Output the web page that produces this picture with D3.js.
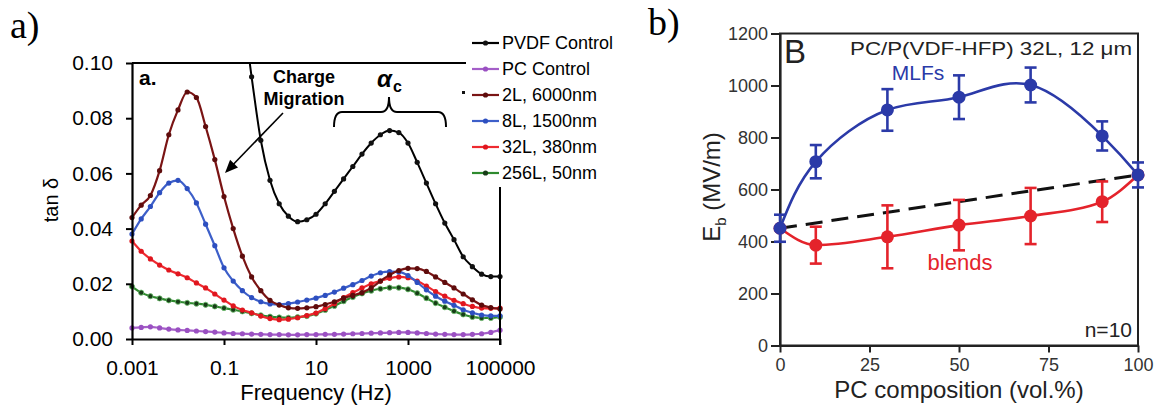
<!DOCTYPE html>
<html>
<head>
<meta charset="utf-8">
<script src="https://cdn.jsdelivr.net/npm/d3@7"></script>
<style>
  body { margin: 0; background: #fff; }
  svg { display: block; }
  text { font-family: "Liberation Sans", Arial, sans-serif; }
</style>
</head>
<body>
<svg id="chart" width="1157" height="405"></svg>
<script>
// ---- panel a: tan delta vs frequency (log10 of Hz) ----
const freqExp = [-3, -2.8, -2.6, -2.4, -2.2, -2, -1.8, -1.6, -1.4, -1.2, -1, -0.8, -0.6, -0.4, -0.2,
  0, 0.2, 0.4, 0.6, 0.8, 1, 1.2, 1.4, 1.6, 1.8, 2, 2.2, 2.4, 2.6, 2.8, 3, 3.2, 3.4, 3.6, 3.8,
  4, 4.2, 4.4, 4.6, 4.8, 5];

const pvdfControl = [null, null, null, null, null, null, null, null, null, null, null, null,
  0.120, 0.095, 0.072, 0.0575, 0.049, 0.0445, 0.0425, 0.0432, 0.0452, 0.049, 0.0535, 0.058,
  0.0625, 0.067, 0.071, 0.074, 0.0755, 0.0748, 0.071, 0.064, 0.0565, 0.049, 0.042, 0.036,
  0.0298, 0.0262, 0.0235, 0.0226, 0.0226];
const pcControl = [0.0040, 0.0042, 0.0044, 0.0040, 0.0036, 0.0033, 0.0031, 0.0029, 0.0027, 0.0025,
  0.0022, 0.0020, 0.0019, 0.0018, 0.0017, 0.0016, 0.0016, 0.0015, 0.0015, 0.0016, 0.0016, 0.0017,
  0.0017, 0.0018, 0.0019, 0.0020, 0.0021, 0.0022, 0.0023, 0.0024, 0.0024, 0.0022, 0.0020, 0.0018,
  0.0017, 0.0016, 0.0016, 0.0017, 0.0019, 0.0024, 0.0032];
const l2 = [0.044, 0.0485, 0.052, 0.061, 0.074, 0.083, 0.0895, 0.0875, 0.077, 0.065, 0.0516, 0.040,
  0.030, 0.0225, 0.0175, 0.014, 0.0123, 0.0113, 0.0111, 0.0113, 0.0117, 0.0125, 0.0135, 0.0148,
  0.0158, 0.0168, 0.0185, 0.021, 0.0232, 0.0248, 0.0256, 0.0255, 0.0245, 0.0225, 0.0205, 0.0185,
  0.0163, 0.0142, 0.0123, 0.0114, 0.0109];
const l8 = [0.038, 0.0435, 0.048, 0.053, 0.0565, 0.0575, 0.0545, 0.0493, 0.0416, 0.0338, 0.0258,
  0.0210, 0.0175, 0.0150, 0.0135, 0.0127, 0.0125, 0.0128, 0.0134, 0.0141, 0.0148, 0.0158, 0.0170,
  0.0184, 0.0197, 0.0212, 0.0228, 0.0240, 0.0244, 0.0243, 0.0230, 0.0205, 0.0178, 0.0155, 0.0137,
  0.0122, 0.0106, 0.0095, 0.0087, 0.0084, 0.0084];
const l32 = [0.0355, 0.0318, 0.0290, 0.0268, 0.0250, 0.0236, 0.0222, 0.0203, 0.0185, 0.0163,
  0.0141, 0.0120, 0.0105, 0.0095, 0.0083, 0.0074, 0.0070, 0.0072, 0.0077, 0.0085, 0.0094, 0.0110,
  0.0128, 0.0150, 0.0168, 0.0185, 0.0200, 0.0210, 0.0220, 0.0225, 0.0222, 0.0210, 0.0192, 0.0172,
  0.0155, 0.0140, 0.0128, 0.0118, 0.0112, 0.0111, 0.0112];
const l256 = [0.0190, 0.0168, 0.0155, 0.0147, 0.0140, 0.0135, 0.0131, 0.0128, 0.0124, 0.0118,
  0.0112, 0.0106, 0.0100, 0.0093, 0.0086, 0.0081, 0.0078, 0.0077, 0.0079, 0.0083, 0.0092, 0.0105,
  0.0120, 0.0137, 0.0152, 0.0165, 0.0175, 0.0182, 0.0186, 0.0186, 0.0180, 0.0166, 0.0148, 0.0130,
  0.0115, 0.0101, 0.0089, 0.0080, 0.0076, 0.0076, 0.0080];

const seriesNames = ["PVDF Control", "PC Control", "2L, 6000nm", "8L, 1500nm", "32L, 380nm", "256L, 50nm"];
const seriesValues = [pvdfControl, pcControl, l2, l8, l32, l256];
const lineColors = ["#000000", "#a45ec8", "#7a1414", "#3d5fc9", "#ee2a30", "#2e8a2e"];
const dotColors = ["#111111", "#9a50c2", "#5e0c0c", "#2d4fc0", "#e0161e", "#173d17"];

const freqTicks = [0.001, 0.1, 10, 1000, 100000];
const freqTickLabels = ["0.001", "0.1", "10", "1000", "100000"];
const tanTicks = [0, 0.02, 0.04, 0.06, 0.08, 0.10];
const tanTickLabels = ["0.00", "0.02", "0.04", "0.06", "0.08", "0.10"];

// ---- panel b: breakdown strength vs composition ----
const composition = [0, 10, 30, 50, 70, 90, 100];
const mlfEb = [451, 707, 906, 955, 1002, 806, 656];
const mlfErr = [52, 64, 80, 84, 67, 56, 48];
const blendEb = [451, 386, 418, 463, 498, 553, 656];
const blendErr = [null, 71, 121, 97, 108, 78, null];
const ruleComp = [0, 100];
const ruleEb = [451, 656];
const compTicks = [0, 25, 50, 75, 100];
const ebTicks = [0, 200, 400, 600, 800, 1000, 1200];

const svg = d3.select("#chart");

// =================== panel a ===================
const xA = d3.scaleLog().domain([1e-3, 1e5]).range([132, 500]);
const yA = d3.scaleLinear().domain([0, 0.1]).range([339, 63]);

svg.append("text").attr("x", 10).attr("y", 38)
  .style("font-family", "'Liberation Serif', serif").style("font-size", "38px").text("a)");

svg.append("defs").append("clipPath").attr("id", "clipA")
  .append("rect").attr("x", 120).attr("y", 63).attr("width", 390).attr("height", 285);

const plotA = svg.append("g").attr("clip-path", "url(#clipA)");
const lineA = d3.line()
  .defined(d => d.v != null)
  .x(d => xA(Math.pow(10, d.e)))
  .y(d => yA(d.v))
  .curve(d3.curveMonotoneX);

// draw order: purple, green, red, blue, brown, black
const order = [1, 5, 4, 3, 2, 0];
order.forEach(i => {
  const pts = freqExp.map((e, k) => ({ e: e, v: seriesValues[i][k] }));
  plotA.append("path").datum(pts)
    .attr("d", lineA).attr("fill", "none")
    .attr("stroke", lineColors[i]).attr("stroke-width", i === 0 ? 2 : 2.2);
  plotA.append("g").selectAll("circle")
    .data(pts.filter(d => d.v != null))
    .join("circle")
    .attr("cx", d => xA(Math.pow(10, d.e)))
    .attr("cy", d => yA(d.v))
    .attr("r", 2.6)
    .attr("fill", dotColors[i])
    .attr("stroke", i === 5 ? "#6fc46f" : "none")
    .attr("stroke-width", 0.8);
});

// frame top & right
svg.append("line").attr("x1", 132).attr("x2", 500).attr("y1", 63).attr("y2", 63)
  .attr("stroke", "#000").attr("stroke-width", 2);
svg.append("line").attr("x1", 500).attr("x2", 500).attr("y1", 63).attr("y2", 345)
  .attr("stroke", "#000").attr("stroke-width", 2);

const xAxisA = svg.append("g").attr("transform", "translate(0,339)")
  .call(d3.axisBottom(xA).tickValues(freqTicks).tickFormat((d, i) => freqTickLabels[i])
    .tickSizeInner(6).tickSizeOuter(0).tickPadding(15));
const yAxisA = svg.append("g").attr("transform", "translate(132,0)")
  .call(d3.axisLeft(yA).tickValues(tanTicks).tickFormat((d, i) => tanTickLabels[i])
    .tickSizeInner(6).tickSizeOuter(0).tickPadding(13));
[xAxisA, yAxisA].forEach(g => {
  g.select(".domain").attr("stroke", "#000").attr("stroke-width", 2.2);
  g.selectAll(".tick line").attr("stroke", "#000").attr("stroke-width", 2);
  g.selectAll(".tick text").style("font-size", "21px").attr("fill", "#000");
});

svg.append("text").attr("x", 316).attr("y", 400).attr("text-anchor", "middle")
  .style("font-size", "22px").text("Frequency (Hz)");
svg.append("text").attr("transform", "translate(58,200) rotate(-90)").attr("text-anchor", "middle")
  .style("font-size", "20px").text("tan δ");

svg.append("text").attr("x", 139).attr("y", 85).style("font-size", "21px")
  .style("font-weight", "bold").text("a.");
svg.append("text").attr("x", 304).attr("y", 83).attr("text-anchor", "middle")
  .style("font-size", "18px").style("font-weight", "bold").text("Charge");
svg.append("text").attr("x", 304).attr("y", 105).attr("text-anchor", "middle")
  .style("font-size", "18px").style("font-weight", "bold").text("Migration");

// arrow
const ax1 = 283, ay1 = 113, ax2 = 225, ay2 = 173;
const ang = Math.atan2(ay2 - ay1, ax2 - ax1);
svg.append("line").attr("x1", ax1).attr("y1", ay1)
  .attr("x2", ax2 - 8 * Math.cos(ang)).attr("y2", ay2 - 8 * Math.sin(ang))
  .attr("stroke", "#000").attr("stroke-width", 1.6);
const hl = 13, hw = 5.5;
const bx = ax2 - hl * Math.cos(ang), by = ay2 - hl * Math.sin(ang);
svg.append("polygon").attr("fill", "#000").attr("points", [
  [ax2, ay2],
  [bx + hw * Math.sin(ang), by - hw * Math.cos(ang)],
  [bx - hw * Math.sin(ang), by + hw * Math.cos(ang)]
].map(p => p.join(",")).join(" "));

// alpha_c with brace
svg.append("text").attr("x", 377).attr("y", 87).style("font-size", "24px")
  .style("font-weight", "bold").style("font-style", "italic").text("α");
svg.append("text").attr("x", 393).attr("y", 92).style("font-size", "16px")
  .style("font-weight", "bold").text("c");
svg.append("path")
  .attr("d", "M334,127 Q334,112 342,112 L381,112 Q389,112 389,97 Q389,112 397,112 L438,112 Q446,112 446,127")
  .attr("fill", "none").attr("stroke", "#000").attr("stroke-width", 2);

// legend
svg.append("rect").attr("x", 466).attr("y", 24).attr("width", 172).attr("height", 163).attr("fill", "#fff");
svg.append("rect").attr("x", 462).attr("y", 91).attr("width", 3).attr("height", 3).attr("fill", "#111");
seriesNames.forEach((name, i) => {
  const ly = 43 + i * 26;
  svg.append("line").attr("x1", 472).attr("x2", 499).attr("y1", ly).attr("y2", ly)
    .attr("stroke", lineColors[i]).attr("stroke-width", 2.2);
  svg.append("circle").attr("cx", 485.5).attr("cy", ly).attr("r", 2.6).attr("fill", dotColors[i]);
  svg.append("text").attr("x", 502).attr("y", ly).attr("dy", "0.36em")
    .style("font-size", "18px").attr("fill", "#000").text(name);
});

// =================== panel b ===================
const xB = d3.scaleLinear().domain([0, 100]).range([780, 1138]);
const yB = d3.scaleLinear().domain([0, 1200]).range([345.5, 33.5]);
const blue = "#2b3aa8", red = "#e4232b";

svg.append("text").attr("x", 648).attr("y", 35)
  .style("font-family", "'Liberation Serif', serif").style("font-size", "38px").text("b)");

svg.append("rect").attr("x", 780).attr("y", 33.5).attr("width", 358).attr("height", 312)
  .attr("fill", "none").attr("stroke", "#222").attr("stroke-width", 2);

const xAxisB = svg.append("g").attr("transform", "translate(0,345.5)")
  .call(d3.axisBottom(xB).tickValues(compTicks).tickSizeInner(7).tickSizeOuter(0).tickPadding(6));
const yAxisB = svg.append("g").attr("transform", "translate(780,0)")
  .call(d3.axisLeft(yB).tickValues(ebTicks).tickFormat(d3.format("d")).tickSizeInner(9).tickSizeOuter(0).tickPadding(3));
[xAxisB, yAxisB].forEach(g => {
  g.select(".domain").attr("stroke", "#222").attr("stroke-width", 2.2);
  g.selectAll(".tick line").attr("stroke", "#222").attr("stroke-width", 2);
  g.selectAll(".tick text").style("font-size", "18px").attr("fill", "#333");
});

svg.append("text").attr("x", 959).attr("y", 398).attr("text-anchor", "middle")
  .style("font-size", "24px").attr("fill", "#222").text("PC composition (vol.%)");
const ytB = svg.append("text").attr("transform", "translate(720,187) rotate(-90)")
  .attr("text-anchor", "middle").style("font-size", "24px").attr("fill", "#222");
ytB.append("tspan").text("E");
ytB.append("tspan").attr("dy", 6).style("font-size", "15px").text("b");
ytB.append("tspan").attr("dy", -6).text(" (MV/m)");

svg.append("text").attr("x", 784).attr("y", 63).style("font-size", "33px").attr("fill", "#222").text("B");
svg.append("text").attr("x", 1132).attr("y", 55).attr("text-anchor", "end")
  .attr("textLength", 282).attr("lengthAdjust", "spacingAndGlyphs")
  .style("font-size", "19px").attr("fill", "#222").text("PC/P(VDF-HFP) 32L, 12 μm");
svg.append("text").attr("x", 918).attr("y", 80).attr("text-anchor", "middle")
  .style("font-size", "21px").attr("fill", blue).text("MLFs");
svg.append("text").attr("x", 960).attr("y", 270).attr("text-anchor", "middle")
  .style("font-size", "22px").attr("fill", red).text("blends");
svg.append("text").attr("x", 1132).attr("y", 337).attr("text-anchor", "end")
  .style("font-size", "21px").attr("fill", "#222").text("n=10");

// dashed rule of mixtures
svg.append("path").datum(ruleComp.map((c, i) => [c, ruleEb[i]]))
  .attr("d", d3.line().x(d => xB(d[0])).y(d => yB(d[1])))
  .attr("stroke", "#111").attr("stroke-width", 3).attr("stroke-dasharray", "17,9").attr("fill", "none");

function drawSeries(vals, errs, color, curve) {
  const pts = composition.map((c, i) => ({ c: c, v: vals[i], e: errs[i] }));
  svg.append("path").datum(pts)
    .attr("d", d3.line().x(d => xB(d.c)).y(d => yB(d.v)).curve(curve))
    .attr("fill", "none").attr("stroke", color).attr("stroke-width", 2.6);
  const eb = svg.append("g").attr("stroke", color).attr("stroke-width", 2.6);
  pts.filter(d => d.e != null).forEach(d => {
    const x = xB(d.c);
    eb.append("line").attr("x1", x).attr("x2", x).attr("y1", yB(d.v - d.e)).attr("y2", yB(d.v + d.e));
    eb.append("line").attr("x1", x - 6).attr("x2", x + 6).attr("y1", yB(d.v - d.e)).attr("y2", yB(d.v - d.e));
    eb.append("line").attr("x1", x - 6).attr("x2", x + 6).attr("y1", yB(d.v + d.e)).attr("y2", yB(d.v + d.e));
  });
  svg.append("g").selectAll("circle").data(pts).join("circle")
    .attr("cx", d => xB(d.c)).attr("cy", d => yB(d.v)).attr("r", 6.5).attr("fill", color);
}
drawSeries(blendEb, blendErr, red, d3.curveMonotoneX);
drawSeries(mlfEb, mlfErr, blue, d3.curveNatural);
</script>
</body>
</html>
